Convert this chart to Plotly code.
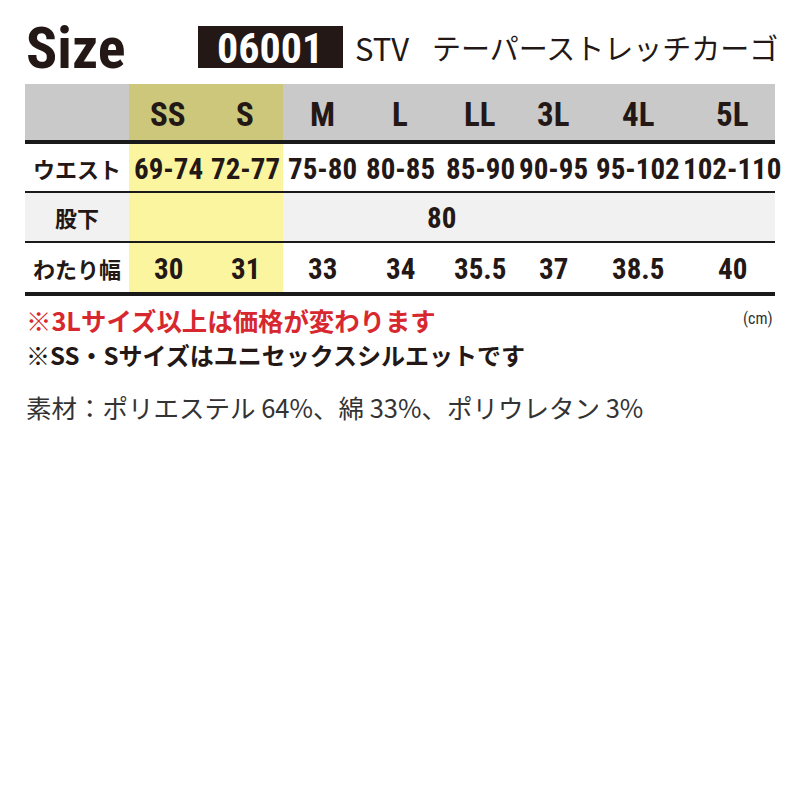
import plotly.graph_objects as go

# --- data ---
sizes = ["SS", "S", "M", "L", "LL", "3L", "4L", "5L"]
row_labels = ["ウエスト", "股下", "わたり幅"]
waist = ["69-74", "72-77", "75-80", "80-85", "85-90", "90-95", "95-102", "102-110"]
inseam = "80"
thigh = ["30", "31", "33", "34", "35.5", "37", "38.5", "40"]

product_code = "06001"
product_line = "STV"
product_name = "テーパーストレッチカーゴ"
note_price = "※3Lサイズ以上は価格が変わります"
note_unisex = "※SS・Sサイズはユニセックスシルエットです"
material = "素材：ポリエステル 64%、綿 33%、ポリウレタン 3%"
unit = "(cm)"

# --- layout (pixel positions on the 800x800 canvas) ---
col_x = [168, 245, 322, 400, 480, 553, 638, 732]
label_x = 77
left, right = 25, 775
hl_left, hl_right = 129, 283
row_top = [84, 144, 193, 243]
row_bot = [140, 191, 241, 292]

NUM = "Roboto Condensed, Noto Sans CJK JP"
JP = "Noto Sans CJK JP"
INK = "#231815"

fig = go.Figure()
shapes = []
ann = []


def rect(x0, x1, y0, y1, color):
    shapes.append(dict(type="rect", xref="x", yref="y", x0=x0, x1=x1, y0=y0, y1=y1,
                       fillcolor=color, line=dict(width=0), layer="below"))


def text(x, y, s, size, family=NUM, color=INK, bold=True, anchor="center"):
    ann.append(dict(x=x, y=y, xref="x", yref="y", text=("<b>%s</b>" % s) if bold else s,
                    showarrow=False, xanchor=anchor, yanchor="middle",
                    font=dict(family=family, size=size, color=color)))


# header band + highlighted unisex sizes
rect(left, right, row_top[0], row_bot[0], "#c9c9c9")
rect(hl_left, hl_right, row_top[0], row_bot[0], "#cdc77c")
# inseam row is light gray
rect(left, right, row_top[2], row_bot[2], "#f1f1f1")
rect(hl_left, hl_right, row_bot[0], row_bot[3], "#fcf5a0")

# rules
rect(left, right, 140, 144, "#1a1a1a")
rect(left, right, 191, 193, "#1a1a1a")
rect(left, right, 241, 243, "#1a1a1a")
rect(left, right, 292, 296, "#1a1a1a")

# title block
text(24, 48, "Size", 58, anchor="left")
rect(198, 343, 26, 68, INK)
text(270, 48, product_code, 42, color="white")
text(353, 47, product_line, 31, family=JP, bold=False, anchor="left")
text(430, 47, product_name, 29, family=JP, bold=False, anchor="left")

# table text
hy = (row_top[0] + row_bot[0]) / 2
for x, s in zip(col_x, sizes):
    text(x, hy + 2, s, 33)

ys = [(t + b) / 2 for t, b in zip(row_top[1:], row_bot[1:])]
for y, lab in zip(ys, row_labels):
    text(label_x, y, lab, 22, family=JP)

for x, v in zip(col_x, waist):
    text(x, ys[0] + 1, v, 29)
text(441, ys[1] + 1, inseam, 29)
for x, v in zip(col_x, thigh):
    text(x, ys[2] + 1, v, 29)

# notes
text(24, 320, note_price, 25.4, family=JP, color="#d7282f", anchor="left")
text(775, 318, unit, 16, family="Roboto Condensed", color="#333333", bold=False, anchor="right")
text(24, 354, note_unisex, 24, family=JP, anchor="left")
text(24, 406, material, 25.5, family=JP, color="#333333", bold=False, anchor="left")

# the page body has an 8px margin, so the axis ranges start at 8 to keep canvas pixels aligned
fig.update_layout(
    width=800, height=800,
    margin=dict(l=0, r=0, t=0, b=0),
    paper_bgcolor="white", plot_bgcolor="white",
    xaxis=dict(range=[8, 808], visible=False, fixedrange=True),
    yaxis=dict(range=[808, 8], visible=False, fixedrange=True),
    shapes=shapes, annotations=ann, showlegend=False,
)

fig.write_html("out.html")
